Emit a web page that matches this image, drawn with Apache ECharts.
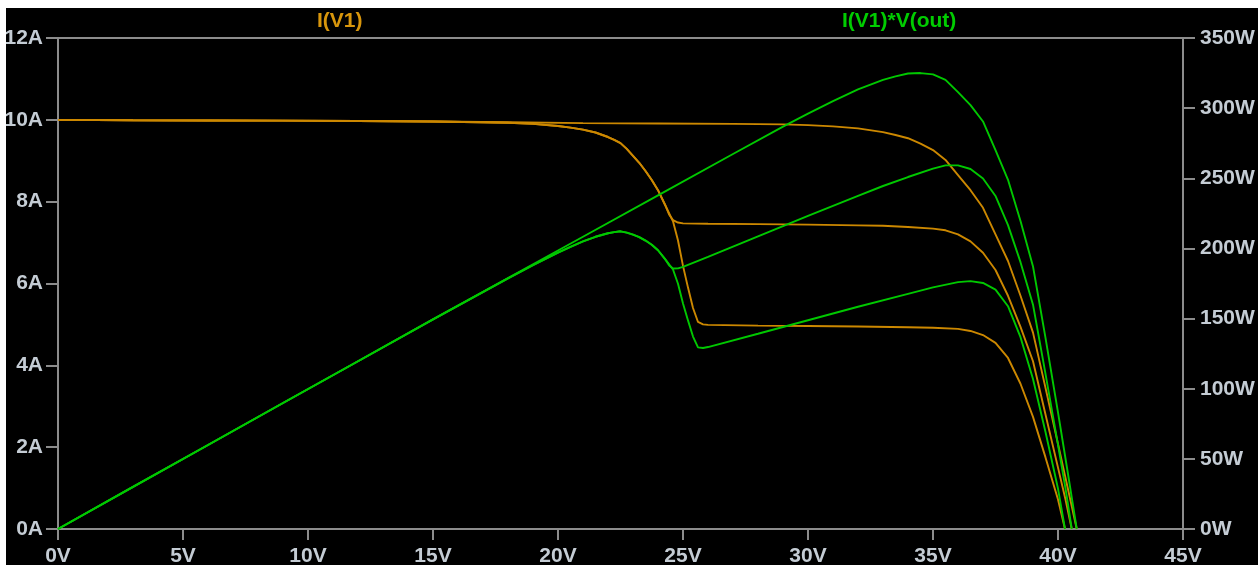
<!DOCTYPE html>
<html>
<head>
<meta charset="utf-8">
<script src="https://cdn.jsdelivr.net/npm/echarts@6/dist/echarts.min.js"></script>
<style>
  html, body { margin: 0; padding: 0; background: #ffffff; }
  #chart { position: absolute; left: 6px; top: 8px; width: 1252px; height: 557px; background: #000000; }
</style>
</head>
<body>
<div id="chart"></div>
<script>
// Solar module sweep: current and power vs. output voltage for three shading cases.

// Unshaded module
const v1 = [0, 3, 6, 9, 12, 15, 18, 21, 24, 27, 29, 30, 31, 32, 33, 33.5, 34, 34.5, 35, 35.5, 36, 36.5, 37, 37.5, 38, 38.5, 39, 39.5, 40, 40.4, 40.75];
const i1 = [10.0, 9.99, 9.985, 9.98, 9.97, 9.96, 9.94, 9.92, 9.91, 9.90, 9.89, 9.87, 9.84, 9.79, 9.70, 9.63, 9.55, 9.42, 9.26, 9.02, 8.65, 8.28, 7.85, 7.2, 6.55, 5.7, 4.8, 3.45, 2.08, 0.97, 0];
const p1 = [0, 30.0, 59.9, 89.8, 119.6, 149.4, 178.9, 208.3, 237.8, 267.3, 286.8, 296.1, 305.0, 313.3, 320.1, 322.6, 324.7, 325.0, 324.1, 320.2, 311.4, 302.2, 290.5, 270.0, 248.9, 219.5, 187.2, 136.3, 83.2, 39.2, 0];

// One substring shaded (~7.5 A)
const v2 = [0, 3, 6, 9, 12, 15, 18, 19, 20, 20.5, 21, 21.5, 22, 22.25, 22.5, 22.75, 23, 23.25, 23.5, 23.75, 24, 24.3, 24.45, 24.6, 24.8, 25, 26, 28, 30, 32, 33, 34, 35, 35.5, 36, 36.5, 37, 37.5, 38, 38.5, 39, 39.5, 40, 40.3, 40.55];
const i2 = [10.0, 9.99, 9.985, 9.98, 9.97, 9.96, 9.93, 9.90, 9.85, 9.81, 9.76, 9.69, 9.58, 9.51, 9.43, 9.29, 9.12, 8.95, 8.75, 8.53, 8.28, 7.9, 7.68, 7.55, 7.49, 7.47, 7.46, 7.45, 7.44, 7.42, 7.41, 7.38, 7.34, 7.30, 7.2, 7.03, 6.75, 6.33, 5.7, 4.94, 4.1, 2.8, 1.5, 0.72, 0];
const p2 = [0, 30.0, 59.9, 89.8, 119.6, 149.4, 178.7, 188.1, 197.0, 201.1, 205.0, 208.3, 210.8, 211.6, 212.2, 211.3, 209.8, 208.1, 205.6, 202.6, 198.7, 192.0, 187.8, 185.7, 185.8, 186.8, 194.0, 208.6, 223.2, 237.4, 244.5, 250.9, 256.9, 259.2, 259.2, 256.6, 249.8, 237.4, 216.6, 190.2, 159.9, 110.6, 60.0, 29.0, 0];

// Substring shaded harder (~5 A)
const v3 = [0, 3, 6, 9, 12, 15, 18, 19, 20, 20.5, 21, 21.5, 22, 22.25, 22.5, 22.75, 23, 23.25, 23.5, 23.75, 24, 24.3, 24.6, 24.8, 25, 25.2, 25.4, 25.6, 25.8, 26, 28, 30, 32, 34, 35, 36, 36.5, 37, 37.5, 38, 38.5, 39, 39.5, 40, 40.28];
const i3 = [10.0, 9.99, 9.985, 9.98, 9.97, 9.96, 9.93, 9.90, 9.85, 9.81, 9.76, 9.69, 9.58, 9.51, 9.43, 9.29, 9.12, 8.95, 8.75, 8.53, 8.28, 7.9, 7.52, 7.05, 6.43, 5.9, 5.4, 5.06, 5.0, 4.99, 4.97, 4.96, 4.95, 4.93, 4.92, 4.89, 4.84, 4.74, 4.55, 4.18, 3.55, 2.74, 1.75, 0.72, 0];
const p3 = [0, 30.0, 59.9, 89.8, 119.6, 149.4, 178.7, 188.1, 197.0, 201.1, 205.0, 208.3, 210.8, 211.6, 212.2, 211.3, 209.8, 208.1, 205.6, 202.6, 198.7, 192.0, 185.0, 174.8, 160.8, 148.7, 137.2, 129.5, 129.0, 129.7, 139.2, 148.8, 158.4, 167.6, 172.2, 176.0, 176.7, 175.4, 170.6, 158.8, 136.7, 106.9, 69.1, 28.8, 0];

// Axis ticks
const voltTicks = [0, 5, 10, 15, 20, 25, 30, 35, 40, 45];
const ampTicks = [0, 2, 4, 6, 8, 10, 12];
const wattTicks = [0, 50, 100, 150, 200, 250, 300, 350];

const ORANGE = '#cc8800';
const GREEN = '#00c800';
const AXIS = '#8c8c8c';
const LABEL = '#c4ccd4';
const FONT = '"Liberation Sans", Arial, sans-serif';

const pairs = (xs, ys) => xs.map((x, k) => [x, ys[k]]);

function curve(name, xs, ys, color, yIndex) {
  return {
    name: name,
    type: 'line',
    yAxisIndex: yIndex,
    data: pairs(xs, ys),
    showSymbol: false,
    smooth: false,
    lineStyle: { color: color, width: 1.9 },
    itemStyle: { color: color },
    silent: true
  };
}

const chart = echarts.init(document.getElementById('chart'), null, { renderer: 'canvas' });

const axisLabel = (unit, margin) => ({
  color: LABEL,
  fontFamily: FONT,
  fontWeight: 'bold',
  fontSize: 21,
  margin: margin,
  formatter: '{value}' + unit
});

chart.setOption({
  backgroundColor: '#000000',
  animation: false,
  title: [
    { text: 'I(V1)', left: 311, top: 3, padding: 0,
      textStyle: { color: '#d8960c', fontFamily: FONT, fontWeight: 'bold', fontSize: 21 } },
    { text: 'I(V1)*V(out)', left: 836, top: 3, padding: 0,
      textStyle: { color: '#00cc00', fontFamily: FONT, fontWeight: 'bold', fontSize: 21 } }
  ],
  grid: {
    left: 52, right: 75, top: 30, bottom: 36,
    outerBoundsMode: 'none',
    containLabel: false,
    show: true, borderColor: AXIS, borderWidth: 2, backgroundColor: '#000000'
  },
  xAxis: {
    type: 'value',
    min: voltTicks[0], max: voltTicks[voltTicks.length - 1], interval: voltTicks[1] - voltTicks[0],
    axisLine: { show: true, onZero: false, lineStyle: { color: AXIS, width: 2 } },
    axisTick: { show: true, length: 11, lineStyle: { color: AXIS, width: 2 } },
    axisLabel: axisLabel('V', 17),
    splitLine: { show: false }
  },
  yAxis: [
    {
      type: 'value', position: 'left',
      min: ampTicks[0], max: ampTicks[ampTicks.length - 1], interval: ampTicks[1] - ampTicks[0],
      axisLine: { show: true, onZero: false, lineStyle: { color: AXIS, width: 2 } },
      axisTick: { show: true, length: 12, lineStyle: { color: AXIS, width: 2 } },
      axisLabel: axisLabel('A', 15),
      splitLine: { show: false }
    },
    {
      type: 'value', position: 'right',
      min: wattTicks[0], max: wattTicks[wattTicks.length - 1], interval: wattTicks[1] - wattTicks[0],
      axisLine: { show: true, onZero: false, lineStyle: { color: AXIS, width: 2 } },
      axisTick: { show: true, length: 12, lineStyle: { color: AXIS, width: 2 } },
      axisLabel: axisLabel('W', 17),
      splitLine: { show: false }
    }
  ],
  series: [
    curve('I(V1)', v1, i1, ORANGE, 0),
    curve('I(V1)', v2, i2, ORANGE, 0),
    curve('I(V1)', v3, i3, ORANGE, 0),
    curve('I(V1)*V(out)', v1, p1, GREEN, 1),
    curve('I(V1)*V(out)', v2, p2, GREEN, 1),
    curve('I(V1)*V(out)', v3, p3, GREEN, 1)
  ]
});
</script>
</body>
</html>
